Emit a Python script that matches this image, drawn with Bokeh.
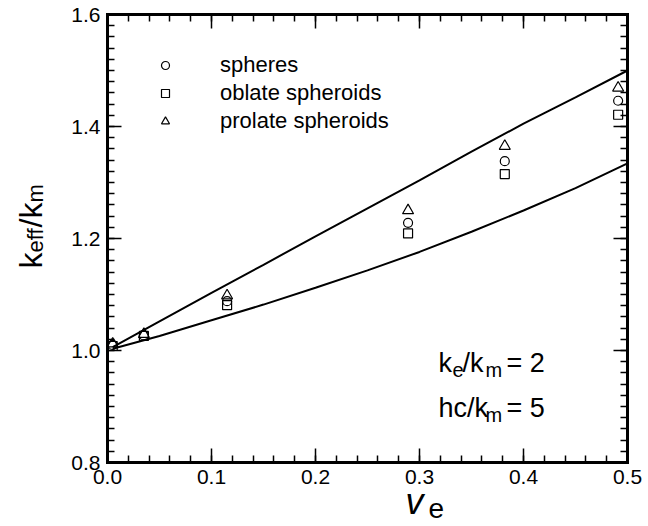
import numpy as np
from bokeh.plotting import figure
from bokeh.models import Range1d, LinearAxis, Label, Legend, LegendItem, FixedTicker
from bokeh.embed import file_html
from bokeh.resources import INLINE

# ---- data ----
curve_v = [0.005, 0.05, 0.10, 0.15, 0.20, 0.25, 0.30, 0.35, 0.40, 0.45, 0.50]
upper_k = [1.006, 1.052, 1.103, 1.153, 1.204, 1.254, 1.304, 1.355, 1.405, 1.452, 1.500]
lower_k = [1.003, 1.026, 1.054, 1.082, 1.112, 1.143, 1.176, 1.212, 1.250, 1.290, 1.334]

pts_v = [0.005, 0.035, 0.115, 0.289, 0.382, 0.491]
spheres_k = [1.010, 1.027, 1.088, 1.228, 1.338, 1.446]
oblate_k = [1.008, 1.026, 1.081, 1.209, 1.315, 1.421]
prolate_k = [1.012, 1.029, 1.098, 1.250, 1.365, 1.469]

x_ticks = [0.0, 0.1, 0.2, 0.3, 0.4, 0.5]
y_ticks = [0.8, 1.0, 1.2, 1.4, 1.6]
legend_labels = ["spheres", "oblate spheroids", "prolate spheroids"]

FONT = "Liberation Sans"

# axes box occupies pixels x 107..627, y 14..462 of a 648x526 canvas
XMIN, XMAX, YMIN, YMAX = 0.0, 0.5, 0.8, 1.6
BOX_L, BOX_R, BOX_T, BOX_B = 107, 627, 14, 462
sx = (BOX_R - BOX_L) / (XMAX - XMIN)
sy = (BOX_B - BOX_T) / (YMAX - YMIN)
x_range = Range1d(XMIN - BOX_L / sx, XMAX + (648 - BOX_R) / sx)
y_range = Range1d(YMIN - (526 - BOX_B) / sy, YMAX + BOX_T / sy)

p = figure(width=648, height=526, x_range=x_range, y_range=y_range,
           output_backend="svg", toolbar_location=None, min_border=0,
           x_axis_location=None, y_axis_location=None)
p.grid.visible = False
p.outline_line_color = None
p.background_fill_color = "white"
p.border_fill_color = "white"

xt = FixedTicker(ticks=x_ticks, minor_ticks=list(np.round(np.arange(0, 0.5001, 0.02), 3)))
yt = FixedTicker(ticks=y_ticks, minor_ticks=list(np.round(np.arange(0.8, 1.6001, 0.02), 3)))

def style(ax, show_labels):
    ax.axis_line_width = 3
    ax.axis_line_color = "black"
    ax.axis_line_cap = "square"
    ax.major_tick_in = 14
    ax.major_tick_out = 0
    ax.minor_tick_in = 7
    ax.minor_tick_out = 0
    ax.major_tick_line_width = 1.5
    ax.minor_tick_line_width = 1.5
    ax.major_tick_line_color = "black"
    ax.minor_tick_line_color = "black"
    if show_labels:
        ax.major_label_text_font = FONT
        ax.major_label_text_font_size = "21px"
        ax.major_label_text_color = "black"
        ax.major_label_standoff = 7
    else:
        ax.major_label_text_font_size = "0px"
        ax.major_label_text_color = None
        ax.major_label_standoff = 0

bx = LinearAxis(ticker=xt, fixed_location=YMIN, bounds=(XMIN, XMAX),
                major_label_overrides={t: f"{t:.1f}" for t in x_ticks})
tx = LinearAxis(ticker=xt, fixed_location=YMAX, bounds=(XMIN, XMAX))
lx = LinearAxis(ticker=yt, fixed_location=XMIN, bounds=(YMIN, YMAX),
                major_label_overrides={t: f"{t:.1f}" for t in y_ticks})
rx = LinearAxis(ticker=yt, fixed_location=XMAX, bounds=(YMIN, YMAX))
style(bx, True); style(lx, True); style(tx, False); style(rx, False)
p.add_layout(bx, "below")
p.add_layout(tx, "above")
p.add_layout(lx, "left")
p.add_layout(rx, "right")

p.line(curve_v, upper_k, line_color="black", line_width=2)
p.line(curve_v, lower_k, line_color="black", line_width=2)

r_sph = p.scatter(pts_v, spheres_k, marker="circle", size=9, fill_color=None, line_color="black", line_width=1.2)
r_obl = p.scatter(pts_v, oblate_k, marker="square", size=9, fill_color=None, line_color="black", line_width=1.2)
r_pro = p.scatter(pts_v, prolate_k, marker="triangle", size=11, fill_color=None, line_color="black", line_width=1.2)

legend = Legend(items=[LegendItem(label=legend_labels[0], renderers=[r_sph]),
                       LegendItem(label=legend_labels[1], renderers=[r_obl]),
                       LegendItem(label=legend_labels[2], renderers=[r_pro])],
                location=(155, 392), orientation="vertical",
                border_line_color=None, background_fill_alpha=0,
                padding=0, margin=0, spacing=2,
                glyph_width=20, glyph_height=20, label_height=20,
                label_standoff=45,
                label_text_font=FONT, label_text_font_size="22px",
                label_text_color="black")
p.add_layout(legend)

def lab(px, base, text, size, style="normal", rotated=False):
    """Place text by its pixel start and baseline; the text box is centred on the point."""
    shift = 0.35 * size
    if rotated:
        cx, cy = base - shift, px
        angle = np.pi / 2
    else:
        cx, cy = px, base - shift
        angle = 0.0
    p.add_layout(Label(x=XMIN + (cx - BOX_L) / sx, y=YMIN + (BOX_B - cy) / sy,
                       text=text, text_font=FONT, text_font_size=f"{size}px",
                       text_font_style=style, text_color="black", angle=angle,
                       text_align="left", text_baseline="middle"))

# annotation inside the axes box
lab(438, 372, "k", 27)
lab(452, 376, "e", 20)
lab(462, 372, "/k", 27)
lab(485, 376, "m", 20)
lab(506, 372, "= 2", 27)
lab(438, 417, "hc/k", 27)
lab(485, 421, "m", 20)
lab(506, 417, "= 5", 27)

# y-axis title k_eff / k_m (rotated, reads bottom to top)
lab(268, 42, "k", 32, rotated=True)
lab(252, 43, "eff", 22, rotated=True)
lab(227, 42, "/k", 32, rotated=True)
lab(202, 43, "m", 22, rotated=True)

# x-axis title v_e
lab(405, 514, "v", 36, style="italic")
lab(428, 518, "e", 28)

open("out.html", "w").write(file_html(p, INLINE))
